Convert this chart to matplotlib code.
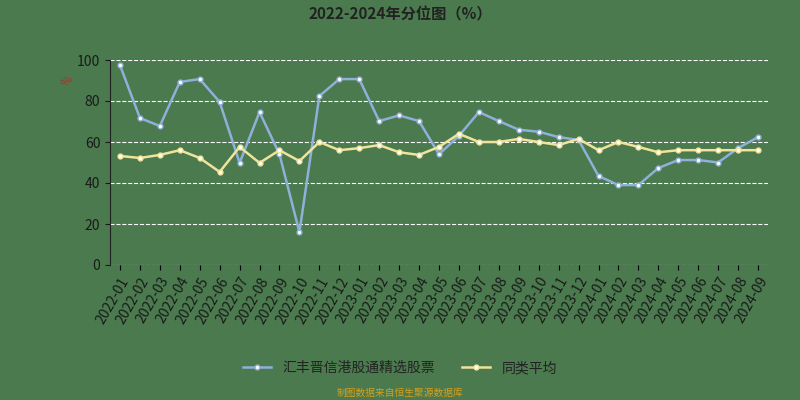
import matplotlib.pyplot as plt

plt.rcParams['font.family'] = ['Noto Sans CJK SC', 'DejaVu Sans']

months = ['2022-01', '2022-02', '2022-03', '2022-04', '2022-05', '2022-06', '2022-07',
          '2022-08', '2022-09', '2022-10', '2022-11', '2022-12', '2023-01', '2023-02',
          '2023-03', '2023-04', '2023-05', '2023-06', '2023-07', '2023-08', '2023-09',
          '2023-10', '2023-11', '2023-12', '2024-01', '2024-02', '2024-03', '2024-04',
          '2024-05', '2024-06', '2024-07', '2024-08', '2024-09']
fund = [97.5, 71.7, 67.8, 89.3, 90.7, 79.5, 49.8, 74.6, 54, 16, 82.4, 90.7, 90.7,
        70.2, 73, 70.2, 54, 63, 74.6, 70.2, 66, 65, 62.4, 61, 43.4, 39, 39, 47.3,
        51.2, 51.2, 50, 57, 62.4]
avg = [53.2, 52.2, 53.7, 56, 52.2, 45.4, 57.6, 49.8, 56, 50.7, 60, 56, 57, 58.5,
       55, 53.7, 57.6, 64, 60, 60, 61.5, 60, 58.5, 61.5, 56, 60, 57.6, 55, 56, 56,
       56, 56, 56]

bg = '#4a7a4e'
fig = plt.figure(figsize=(8, 4), dpi=100)
fig.patch.set_facecolor(bg)
ax = fig.add_axes([110 / 800, 135 / 400, 658 / 800, 205 / 400])
ax.set_facecolor(bg)

x = range(len(months))
ax.plot(x, fund, color='#8fb0d8', lw=1.8, marker='o', ms=3.5,
        mfc='white', mec='#8fb0d8', label='汇丰晋信港股通精选股票')
ax.plot(x, avg, color='#f0e39a', lw=1.8, marker='o', ms=3.5,
        mfc='white', mec='#f0e39a', label='同类平均')

ax.set_ylim(0, 100)
ax.set_xlim(-0.5, len(months) - 0.5)
ax.set_yticks(range(0, 101, 20))
ax.set_xticks(list(x))
ax.set_xticklabels(months, rotation=60, ha='right', rotation_mode='anchor', fontsize=10, color='#1a1a1a')
ax.tick_params(axis='y', labelsize=10, colors='#1a1a1a')
ax.grid(axis='y', color='white', ls='--', lw=0.8)
for s in ['top', 'right', 'bottom']:
    ax.spines[s].set_visible(False)
ax.spines['left'].set_color('#222')
ax.set_ylabel('%', color='#cc2222', fontsize=8, rotation=45)
ax.yaxis.set_label_coords(-0.06, 0.88)

fig.suptitle('2022-2024年分位图（%）', fontsize=11, fontweight='bold', color='#222', y=0.985)
fig.legend(loc='center', bbox_to_anchor=(0.5, 0.08), ncol=2, frameon=False,
           fontsize=10, labelcolor='#222')
fig.text(0.5, 0.01, '制图数据来自恒生聚源数据库', ha='center', fontsize=7, color='#d4a020')

fig.savefig('out.png', dpi=100, facecolor=bg)
